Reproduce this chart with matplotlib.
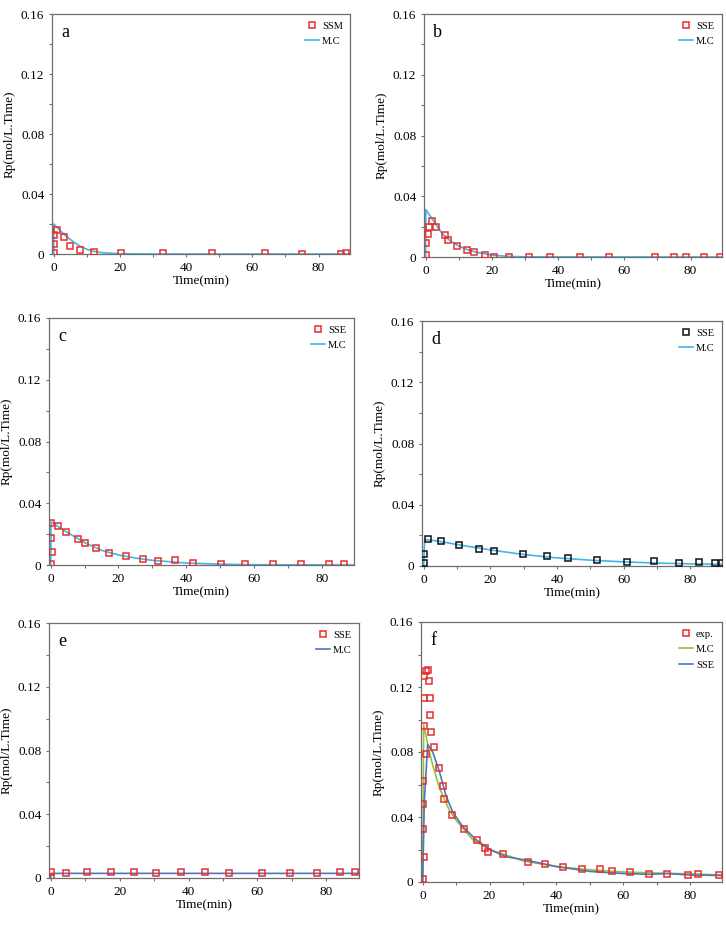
import numpy as np
import matplotlib
matplotlib.use('Agg')
import matplotlib.pyplot as plt
from matplotlib.ticker import MultipleLocator, FixedLocator

plt.rcParams['font.family'] = ['Liberation Serif', 'DejaVu Serif']

# ---- panel a ----
a_t = [0, 0, 0, 1, 3, 5, 8.1, 12.2, 20.4, 33, 47.8, 63.7, 75, 86.7, 88.2]
a_rp = [0.001, 0.0064, 0.013, 0.016, 0.0116, 0.0056, 0.0029, 0.0013, 0.0009,
        0.0009, 0.0009, 0.0007, 0.0002, 0.0002, 0.0004]
a_mc_t = [0, 0.05, 2, 4, 6, 8, 10, 12, 15, 20, 30, 90]
a_mc = [0, 0.020, 0.0155, 0.0115, 0.008, 0.0052, 0.0032, 0.0018, 0.0008, 0.0002, 0, 0]

# ---- panel b ----
b_t = [0, 0.2, 0.7, 1, 1.8, 3.2, 5.8, 6.7, 9.4, 12.4, 14.7, 17.8, 20.5, 25.3,
       31.2, 37.5, 46.6, 55.5, 69.4, 75, 78.7, 84, 88.8]
b_rp = [0.001, 0.0095, 0.015, 0.020, 0.0235, 0.020, 0.0145, 0.0112, 0.007,
        0.0046, 0.0033, 0.0011, 0.0002, 0.0002, 0.0002, 0.0002, 0.0002, 0.0002,
        0.0002, 0.0002, 0.0002, 0.0002, 0.0002]
b_mc_t = [0, 0.05, 2, 5, 7.5, 10, 12.5, 15, 20, 25, 30, 90]
b_mc = [0, 0.0313, 0.025, 0.0154, 0.0105, 0.0073, 0.0049, 0.0033, 0.0012, 0.0004, 0.0001, 0]

# ---- panel c ----
c_t = [0, 0.3, 0, 0.2, 2.3, 4.5, 8, 10.1, 13.4, 17.3, 22.2, 27.3, 31.8, 36.6,
       42, 50.2, 57.2, 65.5, 73.8, 82, 86.5]
c_rp = [0.0006, 0.0082, 0.0177, 0.0275, 0.0255, 0.0216, 0.0171, 0.0141, 0.0108,
        0.0076, 0.0061, 0.0037, 0.0026, 0.003, 0.0011, 0.0006, 0.0005, 0.0004,
        0.0004, 0.0004, 0.0004]
c_mc_t = [0, 0.1, 2.5, 5, 10, 15, 20, 25, 30, 40, 50, 60, 90]
c_mc = [0, 0.028, 0.0245, 0.021, 0.0145, 0.0095, 0.0065, 0.0045, 0.003, 0.0013,
        0.0005, 0.0002, 0]

# ---- panel d ----
d_t = [0.2, 0.2, 1.3, 5.1, 10.7, 16.5, 21, 29.7, 36.9, 43.4, 52.1, 61, 69,
       76.5, 82.5, 87.3, 89.5]
d_rp = [0.0022, 0.0076, 0.0174, 0.0161, 0.0137, 0.0113, 0.010, 0.008, 0.0063,
        0.0052, 0.0039, 0.0028, 0.003, 0.0022, 0.0026, 0.002, 0.002]
d_mc_t = [0, 0.3, 1, 5, 10, 20, 30, 40, 50, 60, 70, 80, 90]
d_mc = [0, 0.017, 0.0172, 0.016, 0.014, 0.0105, 0.0075, 0.0053, 0.0038, 0.0027,
        0.0019, 0.0014, 0.0011]

# ---- panel e ----
e_t = [0, 0.2, 4.3, 10.6, 17.6, 24.3, 30.7, 37.9, 44.7, 51.9, 61.3, 69.5,
       77.3, 83.9, 88.2]
e_rp = [0.0006, 0.0038, 0.0033, 0.0038, 0.0036, 0.0038, 0.0031, 0.0036, 0.0036,
        0.0031, 0.0031, 0.0031, 0.0031, 0.0038, 0.0038]
e_mc_t = [0, 0.05, 90]
e_mc = [0, 0.0029, 0.0029]

# ---- panel f ----
f_t = [0.1, 0.3, 0, 0, 0, 1.0, 0.5, 0.3, 0.5, 1.0, 1.7, 2.0, 2.3, 2.3, 2.6,
       3.4, 4.9, 6.0, 6.4, 8.8, 12.3, 16.3, 18.7, 19.6, 23.9, 31.4, 36.7,
       41.9, 47.5, 52.9, 56.6, 62, 67.6, 73.2, 79.2, 82.3, 88.5]
f_rp = [0.0021, 0.0156, 0.0327, 0.0479, 0.0623, 0.0788, 0.0962, 0.1135, 0.127,
        0.130, 0.1306, 0.1234, 0.1131, 0.1028, 0.0921, 0.0831, 0.0703, 0.059,
        0.0508, 0.0415, 0.0329, 0.0257, 0.0212, 0.0185, 0.0171, 0.0123, 0.0113,
        0.009, 0.0078, 0.0078, 0.007, 0.006, 0.0051, 0.0051, 0.0045, 0.0047,
        0.0041]
f_mc_t = [0, 0.3, 1, 2, 3, 5, 8, 10, 15, 20, 25, 30, 40, 50, 60, 70, 80, 90]
f_mc = [0, 0.0967, 0.090, 0.080, 0.072, 0.058, 0.044, 0.038, 0.026, 0.020,
        0.0165, 0.013, 0.0095, 0.0075, 0.0062, 0.0055, 0.005, 0.0043]
f_sse_t = [0, 0.5, 1.5, 3, 5, 7, 9, 12, 16, 20, 25, 28, 32, 40, 50, 60, 68, 73, 80, 90]
f_sse = [0, 0.05, 0.0847, 0.080, 0.068, 0.053, 0.043, 0.034, 0.026, 0.020,
         0.0155, 0.0145, 0.013, 0.0095, 0.0065, 0.0052, 0.0047, 0.0052, 0.0043, 0.004]

W, H = 726, 925
# pixel boxes: left, top, right, bottom
boxes = {
    'a': (52, 14, 350, 254),
    'b': (424, 14, 722, 257),
    'c': (49, 318, 354, 565),
    'd': (422, 321, 722, 566),
    'e': (49, 623, 359, 878),
    'f': (421, 622, 722, 882),
}

RED = '#e5302d'
SKY = '#3fb6e8'
BLUE = '#4a78be'
GREEN = '#94c045'
GREY = '#6f6f6f'

fig = plt.figure(figsize=(W / 100, H / 100), dpi=100)


def make_ax(key):
    l, t, r, b = boxes[key]
    ax = fig.add_axes([l / W, 1 - b / H, (r - l) / W, (b - t) / H])
    ax.set_xlim(-0.5, 89.5)
    ax.set_ylim(0, 0.16)
    ax.xaxis.set_major_locator(FixedLocator([0, 20, 40, 60, 80]))
    ax.xaxis.set_minor_locator(MultipleLocator(10))
    ax.yaxis.set_major_locator(FixedLocator([0, 0.04, 0.08, 0.12, 0.16]))
    ax.yaxis.set_minor_locator(MultipleLocator(0.02))
    ax.set_yticklabels(['0', '0.04', '0.08', '0.12', '0.16'])
    ax.tick_params(which='both', direction='out', color=GREY, labelsize=9.5,
                   width=0.8, pad=3)
    ax.tick_params(which='major', length=2.5)
    ax.tick_params(which='minor', length=2)
    for s in ax.spines.values():
        s.set_color(GREY)
        s.set_linewidth(0.9)
    ax.set_xlabel('Time(min)', fontsize=9.5, labelpad=1)
    ax.set_ylabel('Rp(mol/L.Time)', fontsize=9.5, labelpad=4)
    ax.text(0.03, 0.96, key, transform=ax.transAxes, fontsize=13,
            va='top', ha='left')
    return ax


def legend(ax):
    ax.legend(loc='upper right', frameon=False, fontsize=7.5, handlelength=1.3,
              handletextpad=0.3, borderaxespad=0.3, labelspacing=0.6)


mk = dict(ls='none', marker='s', ms=5, mfc='none', mew=1.1, zorder=3)

ax = make_ax('a')
ax.plot(a_t, a_rp, mec=RED, label='SSM', **mk)
ax.plot(a_mc_t, a_mc, color=SKY, lw=1.2, label='M.C')
legend(ax)

ax = make_ax('b')
ax.plot(b_t, b_rp, mec=RED, label='SSE', **mk)
ax.plot(b_mc_t, b_mc, color=SKY, lw=1.2, label='M.C')
legend(ax)

ax = make_ax('c')
ax.plot(c_t, c_rp, mec=RED, label='SSE', **mk)
ax.plot(c_mc_t, c_mc, color=SKY, lw=1.2, label='M.C')
legend(ax)

ax = make_ax('d')
ax.plot(d_t, d_rp, mec='#111111', label='SSE', **mk)
ax.plot(d_mc_t, d_mc, color=SKY, lw=1.2, label='M.C')
legend(ax)

ax = make_ax('e')
ax.plot(e_t, e_rp, mec=RED, label='SSE', **mk)
ax.plot(e_mc_t, e_mc, color=BLUE, lw=1.2, label='M.C')
legend(ax)

ax = make_ax('f')
ax.plot(f_t, f_rp, mec=RED, label='exp.', **mk)
ax.plot(f_mc_t, f_mc, color=GREEN, lw=1.2, label='M.C')
ax.plot(f_sse_t, f_sse, color=BLUE, lw=1.2, label='SSE')
legend(ax)

fig.savefig('out.png', dpi=100)
